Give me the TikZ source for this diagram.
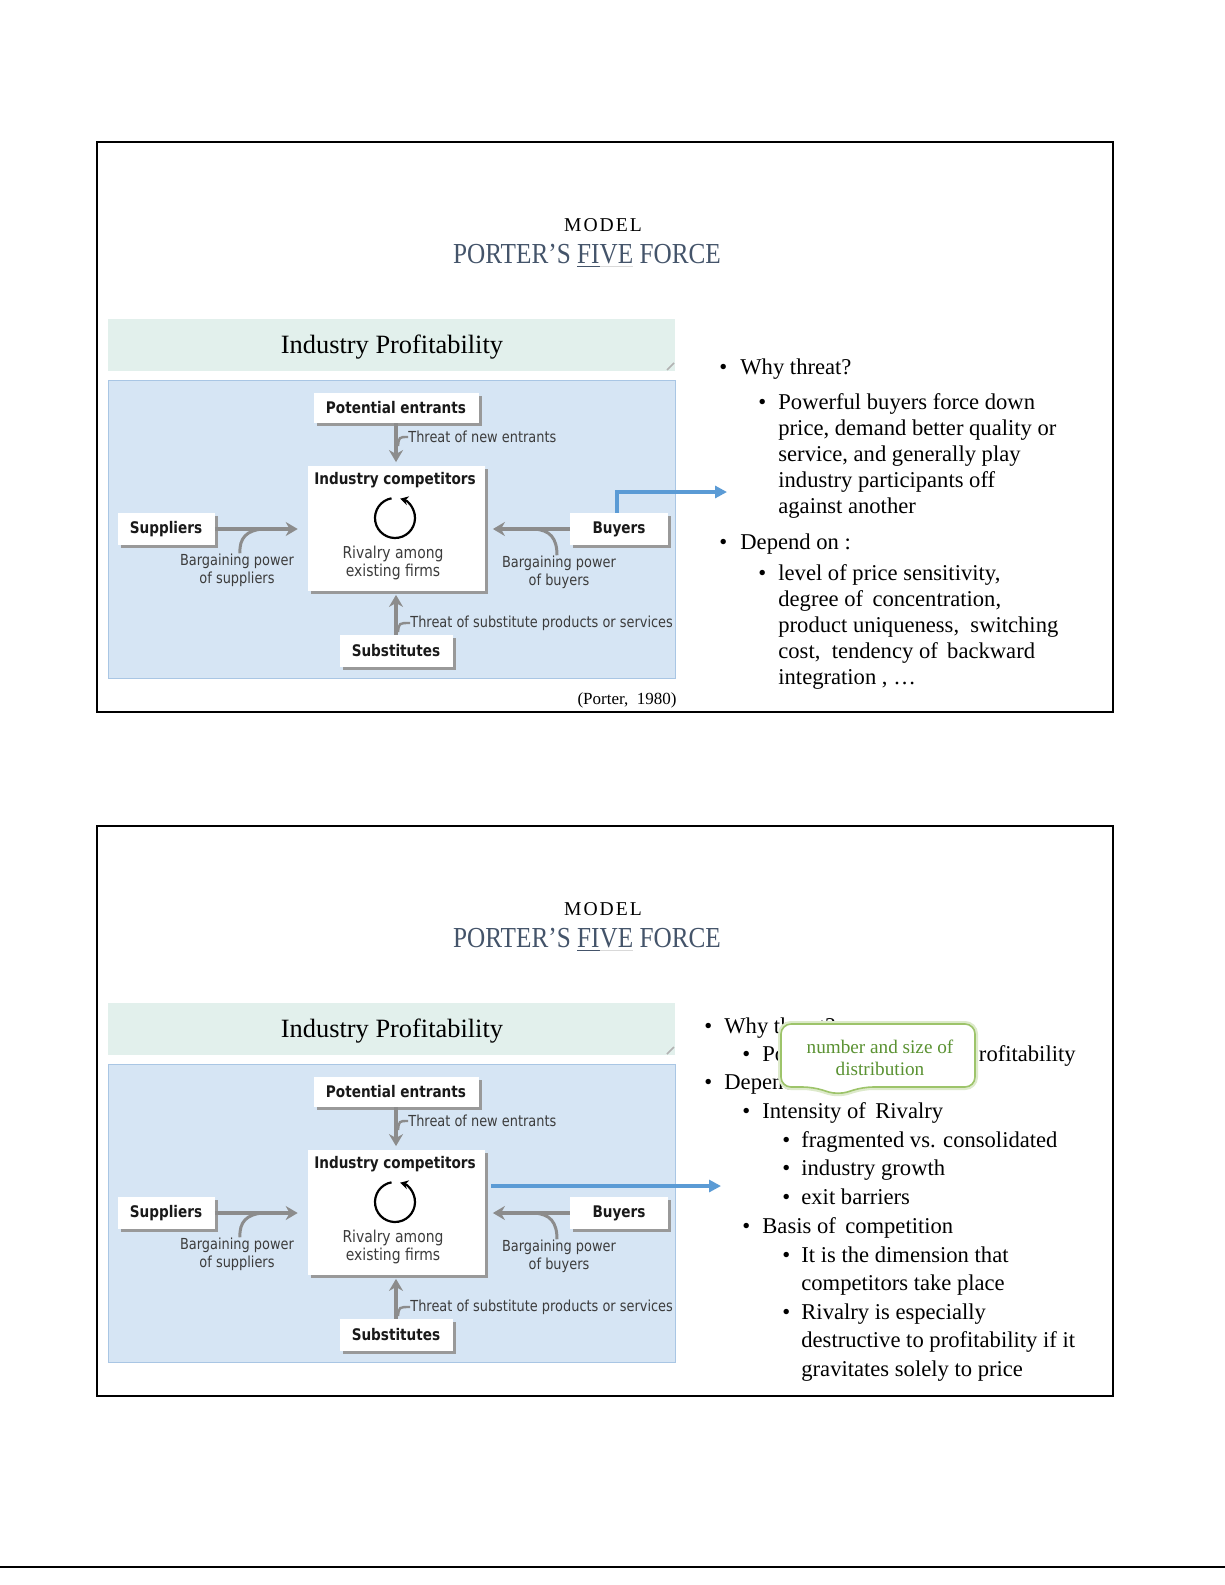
\documentclass[tikz,border=0pt]{standalone}
\usepackage{fontspec}
\setmainfont{Liberation Serif}
\newfontfamily\diafont[FakeStretch=0.85]{DejaVu Sans}
\newfontfamily\modelfont[LetterSpace=10]{Liberation Serif}
\newfontfamily\titlefont[FakeStretch=0.87]{Liberation Serif}
\usetikzlibrary{arrows.meta,shadows}

\definecolor{titleblue}{HTML}{44546A}
\definecolor{bannergreen}{HTML}{E2F0EC}
\definecolor{panelblue}{HTML}{D6E5F4}
\definecolor{paneledge}{HTML}{A9C6E4}
\definecolor{forcegray}{HTML}{8C8C8C}
\definecolor{labelgray}{HTML}{3C3C3C}
\definecolor{linkblue}{HTML}{5B9BD5}
\definecolor{calloutgreen}{HTML}{5A9232}
\definecolor{calloutedge}{HTML}{9DC46A}

\tikzset{
  forcebox/.style={fill=white, inner sep=0pt, text=black!90,
    font=\diafont\bfseries\fontsize{8}{9}\selectfont,
    drop shadow={shadow xshift=1.5pt, shadow yshift=-1.5pt, fill=gray!80, opacity=1}},
  force/.style={draw=forcegray, line width=2pt, -{Stealth[length=6pt,width=7pt]}},
  hook/.style={draw=forcegray, line width=1.2pt},
  forcelabel/.style={inner sep=0pt, text=labelgray, align=center,
    font=\diafont\fontsize{7.6}{9}\selectfont},
  slidetext/.style={anchor=base west, inner sep=0pt, font=\fontsize{11.3}{13}\selectfont},
  bullet/.style={anchor=base west, inner sep=0pt, font=\fontsize{11.3}{13}\selectfont},
  linkarrow/.style={draw=linkblue, line width=2pt, -{Triangle[length=6pt,width=6pt]}},
}

\begin{document}
\begin{tikzpicture}[x=0.5pt, y=-0.5pt]

\useasboundingbox (0,0) rectangle (1225,1585);
\fill[white] (0,0) rectangle (1225,1585);
\draw[line width=1pt] (0,1567) -- (1225,1567);

% the same slide head and force diagram twice
\foreach \off/\tag in {0/a,684/b} {
\begin{scope}[shift={(0,\off)}, name prefix=\tag-]
\draw[line width=1pt] (97,142) rectangle (1113,712);
\node[inner sep=0pt, font=\modelfont\fontsize{9.8}{10}\selectfont] (model) at (603,225) {MODEL};
\node[inner sep=0pt, text=titleblue, font=\titlefont\fontsize{14.5}{15}\selectfont] (title) at (587,256)
  {PORTER’S \underline{FI}\textcolor{gray!30}{\underline{\textcolor{titleblue}{VE}}} FORCE};

\fill[bannergreen] (108,319) rectangle (675,371);
\draw[gray!60, line width=0.8pt] (667,370) -- (674,363);
\node[inner sep=0pt, font=\fontsize{13.2}{14}\selectfont] (banner) at (392,347) {Industry Profitability};

\filldraw[fill=panelblue, draw=paneledge, line width=0.5pt] (108,380) rectangle (675,678);

\node[forcebox, minimum width=82.5pt, minimum height=15pt] (pot) at (396,408) {Potential entrants};
\node[forcebox, minimum width=88.5pt, minimum height=62.5pt] (comp) at (396,528) {};
\node[forcebox, minimum width=48.5pt, minimum height=16pt] (sup) at (166,529) {Suppliers};
\node[forcebox, minimum width=49pt, minimum height=16pt] (buy) at (619,529) {Buyers};
\node[forcebox, minimum width=56.5pt, minimum height=16pt] (sub) at (396,651) {Substitutes};

\node[inner sep=0pt, text=black!90, font=\diafont\bfseries\fontsize{8}{9}\selectfont] (comptitle) at (395,480) {Industry competitors};
\coordinate (rot) at (395,518);
\draw[line width=1.1pt, -{Stealth[length=4pt,width=4.5pt]}] ([shift={(100:10pt)}]rot) arc[start angle=100, end angle=435, radius=10pt];
\node[forcelabel, font=\diafont\fontsize{8.2}{9}\selectfont] (rivlbl) at (393,563) {Rivalry among\\existing firms};

\draw[force, shorten >=1.5pt] (pot.south) -- (pot.south |- comp.north);
\draw[force, shorten >=4.7pt] (sup.east) -- (sup.east -| comp.west);
\draw[force, shorten >=4pt] (buy.west) -- (buy.west -| comp.east);
\draw[force, shorten >=2pt] (sub.north) -- (sub.north |- comp.south);

\node[forcelabel, anchor=west] (newlbl) at (408,437) {Threat of new entrants};
\node[forcelabel] (suplbl) at (237,570) {Bargaining power\\of suppliers};
\node[forcelabel] (buylbl) at (559,572) {Bargaining power\\of buyers};
\node[forcelabel, anchor=west] (sublbl) at (410,623) {Threat of substitute products or services};

\draw[hook] (newlbl.west) .. controls (399,437) .. (398,446);
\draw[hook] (sublbl.west) .. controls (399,623) .. (398,632);
\draw[hook, line width=1.5pt] ([xshift=1.5pt]suplbl.north) .. controls (239,538) and (247,530) .. (263,529);
\draw[hook, line width=1.5pt] ([xshift=-1pt]buylbl.north) .. controls (557,538) and (550,530) .. (534,529);
\end{scope}
}

% slide 1: buyers
\node[inner sep=0pt, font=\fontsize{8.5}{9}\selectfont] (cite) at (627,700) {(Porter,\ \ 1980)};
\coordinate (a-tip) at (727,492);
\draw[linkarrow] ([xshift=-1pt]a-buy.north) |- (a-tip);

\node[bullet] (a-d1) at (719,374) {•};
\node[slidetext] (a-why) at (740,374) {Why threat?};
\node[bullet] (a-d2) at (758,409) {•};
\foreach \txt [count=\i from 0] in {Powerful buyers force down, {price, demand better quality or},
    {service, and generally play}, industry participants off, against another}
  \node[slidetext] (a-pow\i) at (778,409+26*\i) {\txt};
\node[bullet] (a-d3) at (719,549) {•};
\node[slidetext] (a-dep) at (740,549) {Depend on :};
\node[bullet] (a-d4) at (758,580) {•};
\foreach \txt [count=\i from 0] in {{level of price sensitivity,}, {degree of\, concentration,},
    {product uniqueness,\ \ switching}, {cost,\ \ tendency of\, backward}, {integration , …}}
  \node[slidetext] (a-lvl\i) at (778,580+26*\i) {\txt};

% slide 2: rivalry
\coordinate (b-tip) at (721,1186);
\path (b-comp.east |- b-tip) coordinate (b-start);
\draw[linkarrow] ([xshift=3pt]b-start) -- (b-tip);

\node[bullet] (b-d1) at (704,1033) {•};
\node[slidetext] (b-why) at (724,1033) {Why threat?};
\node[bullet] (b-d2) at (742,1061) {•};
\node[slidetext] (b-po) at (762,1061) {Po};
\node[slidetext] (b-prof) at (966,1061) {Profitability};
\node[bullet] (b-d3) at (704,1089) {•};
\node[slidetext] (b-dep) at (724,1089) {Depend on :};
\node[bullet] (b-d4) at (742,1118) {•};
\node[slidetext] (b-int) at (762,1118) {Intensity of\, Rivalry};
\foreach \txt [count=\i from 0] in {fragmented vs. consolidated, industry growth, exit barriers}
  \node[slidetext] (b-frag\i) at (801,1147+28.6*\i) {\txt};
\foreach \i in {0,1,2}
  \node[bullet] (b-fd\i) at (782,1147+28.6*\i) {•};
\node[bullet] (b-d5) at (742,1233) {•};
\node[slidetext] (b-basis) at (762,1233) {Basis of\, competition};
\node[bullet] (b-d6) at (782,1262) {•};
\foreach \txt [count=\i from 0] in {It is the dimension that, competitors take place}
  \node[slidetext] (b-dim\i) at (801,1262+28.6*\i) {\txt};
\node[bullet] (b-d7) at (782,1319) {•};
\foreach \txt [count=\i from 0] in {Rivalry is especially, destructive to profitability if it, gravitates solely to price}
  \node[slidetext] (b-riv\i) at (801,1319+28.6*\i) {\txt};

% callout over the list
\coordinate (c-nw) at (781,1024);
\coordinate (c-se) at (975,1087);
\foreach \w/\c in {3pt/calloutedge!35, 0.8pt/calloutedge}
  \filldraw[fill=white, draw=\c, line width=\w, rounded corners=5pt]
    (c-nw) -- (c-nw -| c-se) -- (c-se) -- (863,1087) -- (838,1095) -- (813,1087) -- (c-nw |- c-se) -- cycle;
\node[inner sep=0pt, align=center, text=calloutgreen, font=\fontsize{9.6}{11}\selectfont] (callout) at (880,1058)
  {number and size of\\distribution};

\end{tikzpicture}
\end{document}
